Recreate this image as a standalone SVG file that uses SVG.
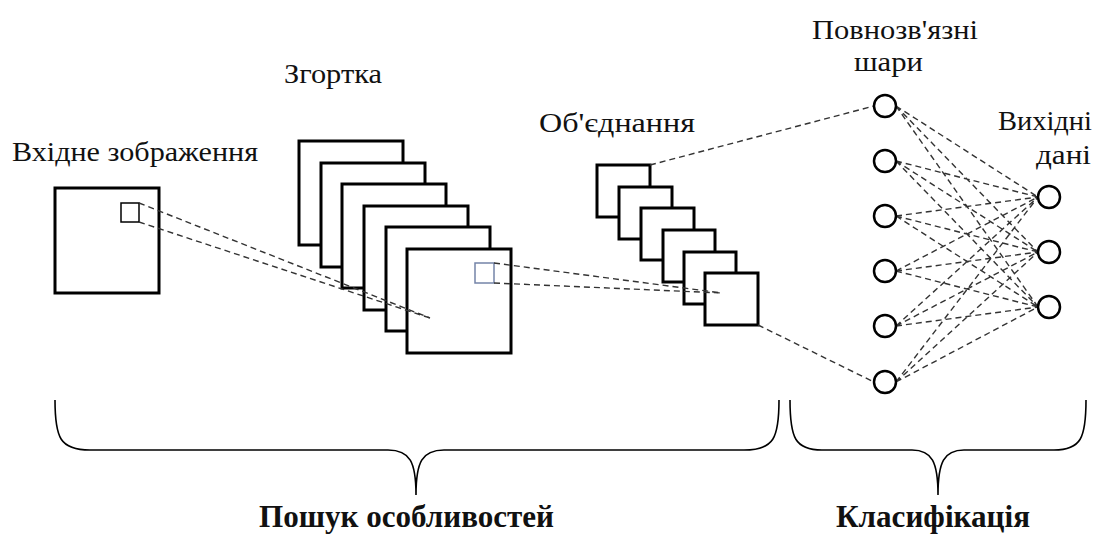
<svg xmlns="http://www.w3.org/2000/svg" width="1100" height="534" viewBox="0 0 1100 534">
<style>
.sq{fill:#fff;stroke:#000;stroke-width:3}
.nd{fill:#fff;stroke:#000;stroke-width:2.5}
.dl{stroke:#333;stroke-width:1.4;stroke-dasharray:6 4;fill:none}
.lb{font-family:"Liberation Serif","DejaVu Serif","Times New Roman",serif;font-size:27px;fill:#111}
.bl{font-family:"Liberation Serif","DejaVu Serif","Times New Roman",serif;font-size:31px;font-weight:bold;fill:#111}
.br{fill:none;stroke:#000;stroke-width:1.6}
</style>
<rect width="1100" height="534" fill="#fff"/>
<g id="input">
<rect class="sq" x="55" y="188" width="104" height="105"/>
<rect x="121" y="203" width="18" height="19" fill="none" stroke="#000" stroke-width="1.5"/>
<text class="lb" x="12" y="161" textLength="246" lengthAdjust="spacingAndGlyphs">Вхідне зображення</text>
</g>
<g id="conv">
<rect class="sq" x="299" y="141" width="104" height="104"/>
<rect class="sq" x="321" y="163" width="104" height="104"/>
<rect class="sq" x="342" y="184" width="104" height="104"/>
<rect class="sq" x="364" y="206" width="104" height="104"/>
<rect class="sq" x="386" y="227" width="104" height="104"/>
<rect class="sq" x="407" y="249" width="104" height="104"/>
<rect x="475" y="263" width="19" height="20" fill="none" stroke="#7484a8" stroke-width="1.5"/>
<text class="lb" x="284" y="83" textLength="98" lengthAdjust="spacingAndGlyphs">Згортка</text>
</g>
<g id="pool">
<rect class="sq" x="597" y="165" width="53" height="52"/>
<rect class="sq" x="619" y="187" width="53" height="52"/>
<rect class="sq" x="641" y="208" width="53" height="52"/>
<rect class="sq" x="663" y="230" width="52" height="52"/>
<rect class="sq" x="684" y="252" width="52" height="52"/>
<rect class="sq" x="705" y="273" width="53" height="52"/>
<text class="lb" x="539" y="132" textLength="156" lengthAdjust="spacingAndGlyphs">Об'єднання</text>
</g>
<g id="connectors">
<line class="dl" x1="139" y1="203" x2="430" y2="318"/>
<line class="dl" x1="139" y1="222" x2="430" y2="318"/>
<line class="dl" x1="494" y1="263" x2="722" y2="293"/>
<line class="dl" x1="494" y1="283" x2="722" y2="293"/>
<line class="dl" x1="650" y1="165" x2="874" y2="106"/>
<line class="dl" x1="758" y1="325" x2="874" y2="382"/>
<g id="fc-out">
<path class="dl" d="M896,106L1038,197M896,106L1038,252M896,106L1038,307M896,161L1038,197M896,161L1038,252M896,161L1038,307M896,216L1038,197M896,216L1038,252M896,216L1038,307M896,271L1038,197M896,271L1038,252M896,271L1038,307M896,326L1038,197M896,326L1038,252M896,326L1038,307M896,382L1038,197M896,382L1038,252M896,382L1038,307"/>
</g>
</g>
<g id="fc">
<circle class="nd" cx="885" cy="106" r="11"/>
<circle class="nd" cx="885" cy="161" r="11"/>
<circle class="nd" cx="885" cy="216" r="11"/>
<circle class="nd" cx="885" cy="271" r="11"/>
<circle class="nd" cx="885" cy="326" r="11"/>
<circle class="nd" cx="885" cy="382" r="11"/>
<text class="lb" x="812" y="39" textLength="166" lengthAdjust="spacingAndGlyphs">Повнозв'язні</text>
<text class="lb" x="854" y="71" textLength="69" lengthAdjust="spacingAndGlyphs">шари</text>
</g>
<g id="output">
<circle class="nd" cx="1049" cy="197" r="11"/>
<circle class="nd" cx="1049" cy="252" r="11"/>
<circle class="nd" cx="1049" cy="307" r="11"/>
<text class="lb" x="998" y="130" textLength="94" lengthAdjust="spacingAndGlyphs">Вихідні</text>
<text class="lb" x="1036" y="164" textLength="55" lengthAdjust="spacingAndGlyphs">дані</text>
</g>
<g id="brace-features">
<path class="br" d="M55,400 C55,438 60,450 90,450 L388,450 C410,450 416,462 416,495 C416,462 422,450 444,450 L744,450 C774,450 779,438 779,400"/>
<text class="bl" x="259" y="527" textLength="295" lengthAdjust="spacingAndGlyphs">Пошук особливостей</text>
</g>
<g id="brace-classification">
<path class="br" d="M790,400 C790,438 795,450 822,450 L912,450 C932,450 938,462 938,495 C938,462 944,450 964,450 L1054,450 C1081,450 1086,438 1086,400"/>
<text class="bl" x="836" y="527" textLength="194" lengthAdjust="spacingAndGlyphs">Класифікація</text>
</g>
</svg>
